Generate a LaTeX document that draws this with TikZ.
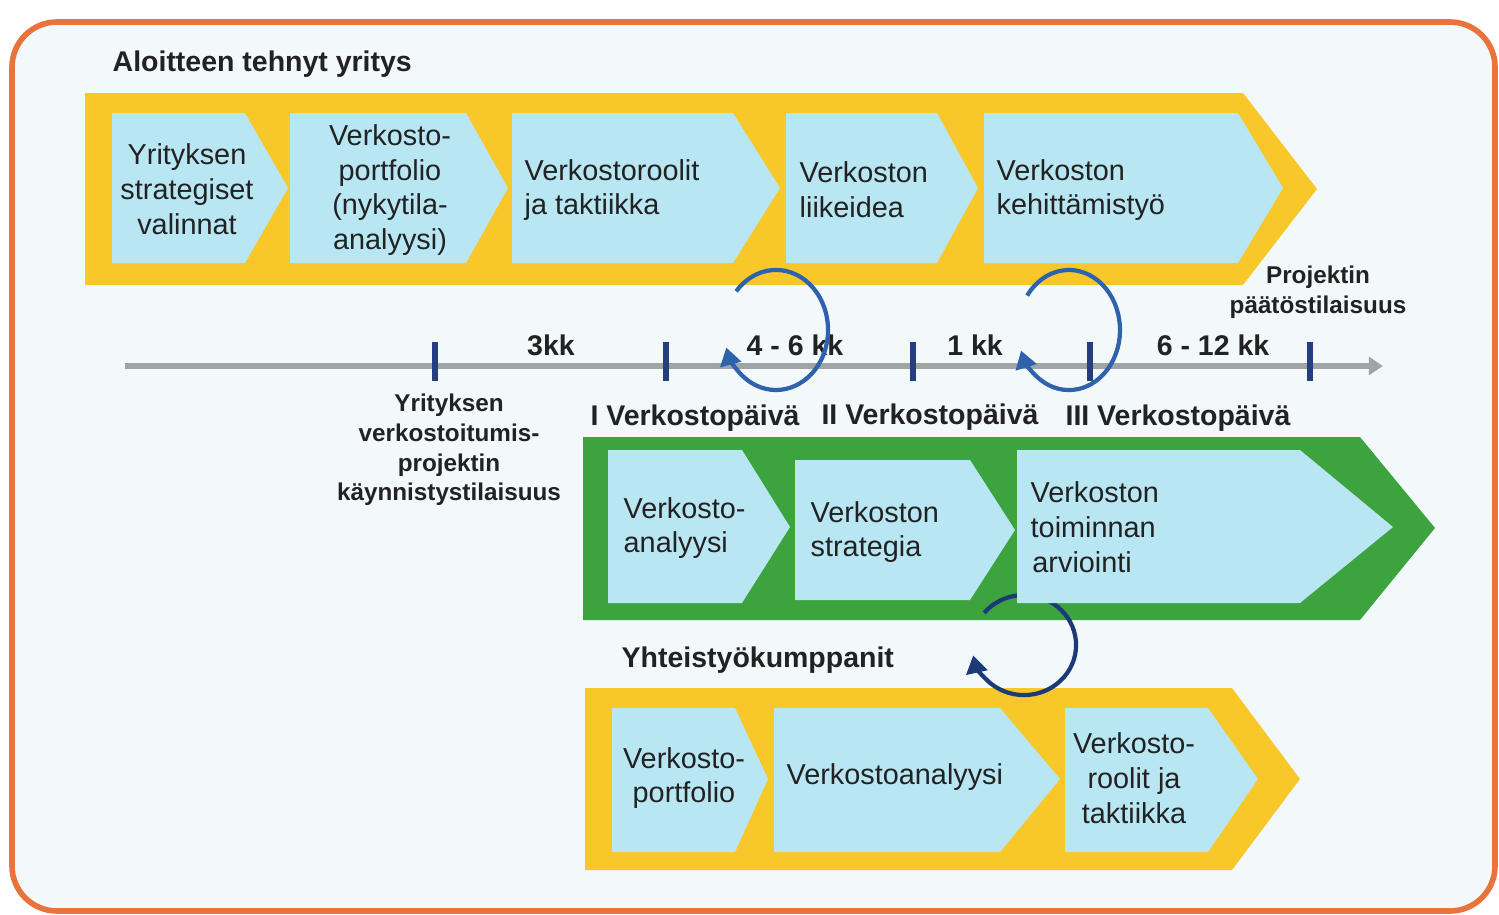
\documentclass[tikz,border=0pt]{standalone}
\usepackage{fontspec}
\setmainfont{Liberation Sans}
\usetikzlibrary{arrows.meta}

\definecolor{frameorange}{HTML}{E8733C}
\definecolor{paleback}{HTML}{F3F9FB}
\definecolor{bandyellow}{HTML}{F8C72A}
\definecolor{bandgreen}{HTML}{3DA33F}
\definecolor{boxblue}{HTML}{B8E6F3}
\definecolor{linegray}{HTML}{9DA6A5}
\definecolor{ticknavy}{HTML}{253F7E}
\definecolor{loopblue}{HTML}{2F62AD}
\definecolor{loopnavy}{HTML}{1D3A78}
\definecolor{txt}{HTML}{222222}

\tikzset{
  boxtext/.style={font=\fontsize{8.2}{9.9}\selectfont, text=txt, inner sep=0pt},
  headtext/.style={font=\fontsize{8.1}{9.9}\selectfont\bfseries, text=txt, inner sep=0pt},
  smalltext/.style={font=\fontsize{6.9}{8.4}\selectfont\bfseries, text=txt, inner sep=0pt, align=center},
  cyclearrow/.style={line width=1.2pt, -{Triangle[width=6pt,length=5pt]}},
}

\begin{document}
\begin{tikzpicture}[x=0.01cm, y=-0.01cm]

\useasboundingbox (0,0) rectangle (1499,915);
\fill[white] (0,0) rectangle (1499,915);
\draw[frameorange, line width=1.6pt, fill=paleback, rounded corners=0.45cm] (12,22) rectangle (1495,911);

% bands
\fill[bandyellow] (85,93) -- (1243,93) -- (1317,189) -- (1243,285) -- (85,285) -- cycle;
\fill[bandgreen] (583,437) -- (1360,437) -- (1435,528) -- (1360,620) -- (583,620) -- cycle;
\fill[bandyellow] (585,688) -- (1232,688) -- (1300,779) -- (1232,870) -- (585,870) -- cycle;

% loop behind the green boxes
\coordinate (cc) at (1024,645);
\draw[cyclearrow, loopnavy] (cc) ++(-0.398cm,0.321cm) arc[start angle=140, end angle=-168, x radius=0.52cm, y radius=0.50cm];

% top row
\fill[boxblue] (112,113) -- (245,113) -- (288,188) -- (245,263) -- (112,263) -- cycle;
\fill[boxblue] (290,113) -- (466,113) -- (508,188) -- (466,263) -- (290,263) -- cycle;
\fill[boxblue] (512,113) -- (733,113) -- (780,188) -- (733,263) -- (512,263) -- cycle;
\fill[boxblue] (786,113) -- (937,113) -- (978,188) -- (937,263) -- (786,263) -- cycle;
\fill[boxblue] (984,113) -- (1238,113) -- (1283,188) -- (1238,263) -- (984,263) -- cycle;

% green row
\fill[boxblue] (608,450) -- (742,450) -- (790,527) -- (742,603) -- (608,603) -- cycle;
\fill[boxblue] (795,460) -- (970,460) -- (1015,530) -- (970,600) -- (795,600) -- cycle;
\fill[boxblue] (1017,450) -- (1300,450) -- (1393,527) -- (1300,603) -- (1017,603) -- cycle;

% bottom row
\fill[boxblue] (612,708) -- (735,708) -- (768,779) -- (735,852) -- (612,852) -- cycle;
\fill[boxblue] (774,708) -- (1000,708) -- (1060,779) -- (1000,852) -- (774,852) -- cycle;
\fill[boxblue] (1065,708) -- (1208,708) -- (1258,779) -- (1208,852) -- (1065,852) -- cycle;

\node(aloite) at (112,64) [headtext, anchor=west] {Aloitteen tehnyt yritys};
\node(kumppanit) at (621,660) [headtext, anchor=west] {Yhteistyökumppanit};

\node(t1) at (187,189) [boxtext, align=center] {Yrityksen\\strategiset\\valinnat};
\node(t2) at (390,190) [boxtext, align=center] {Verkosto-\\portfolio\\(nykytila-\\analyysi)};
\node(t3) at (524,190) [boxtext, align=left, anchor=west] {Verkostoroolit\\ja taktiikka};
\node(t4) at (799,190) [boxtext, align=left, anchor=west] {Verkoston\\liikeidea};
\node(t5) at (996,190) [boxtext, align=left, anchor=west] {Verkoston\\kehittämistyö};

\node(g1) at (623,528) [boxtext, align=left, anchor=west] {Verkosto-\\analyysi};
\node(g2) at (810,532) [boxtext, align=left, anchor=west] {Verkoston\\strategia};
\node(g3) at (1030,527) [boxtext, align=left, anchor=west] {Verkoston\\toiminnan\\\hspace*{0.5pt}arviointi};

\node(y1) at (684,778) [boxtext, align=center] {Verkosto-\\portfolio};
\node(y2) at (786,777) [boxtext, anchor=west] {Verkostoanalyysi};
\node(y3) at (1134,778) [boxtext, align=center] {Verkosto-\\roolit ja\\taktiikka};

% timeline
\coordinate(alku) at (125,366);
\coordinate(loppu) at (1383,366);
\draw[linegray, line width=1.7pt, -{Triangle[width=5pt,length=4pt]}] (alku) -- (loppu);
\foreach \x in {435,666,913,1090,1310}
  \draw[ticknavy, line width=1.5pt] (\x,342) -- (\x,381);

\node(kk1) at (551,345) [headtext] {3kk};
\node(kk2) at (795,345) [headtext] {4 - 6 kk};
\node(kk3) at (975,345) [headtext] {1 kk};
\node(kk4) at (1213,345) [headtext] {6 - 12 kk};

\node(paatos) at (1318,292) [smalltext] {Projektin\\päätöstilaisuus};
\node(kaynnistys) at (449,450) [smalltext] {Yrityksen\\verkostoitumis-\\projektin\\käynnistystilaisuus};

\node(vp1) at (695,418) [headtext] {I Verkostopäivä};
\node(vp2) at (930,417) [headtext] {II Verkostopäivä};
\node(vp3) at (1178,418) [headtext] {III Verkostopäivä};

% loops on the timeline
\coordinate (ca) at (776,330);
\coordinate (cb) at (1069,330);
\draw[cyclearrow, loopblue] (ca) ++(-0.398cm,0.386cm) arc[start angle=140, end angle=-163, x radius=0.52cm, y radius=0.60cm];
\draw[cyclearrow, loopblue] (cb) ++(-0.418cm,0.344cm) arc[start angle=145, end angle=-160, x radius=0.51cm, y radius=0.60cm];

\end{tikzpicture}
\end{document}
